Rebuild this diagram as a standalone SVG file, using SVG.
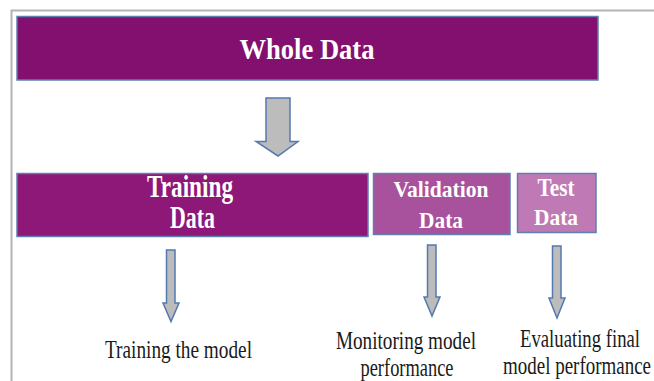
<svg xmlns="http://www.w3.org/2000/svg" width="654" height="381" viewBox="0 0 654 381">
<style>
.box{stroke:#5f7fb0;stroke-width:1.5}
.arrow{fill:#bcbcbc;stroke:#5478b0;stroke-width:1.5;stroke-linejoin:miter}
.t{font-family:"Liberation Serif",serif;font-weight:bold;fill:#ffffff;text-anchor:middle}
.l{font-family:"Liberation Serif",serif;fill:#1a1a1a;text-anchor:middle;font-size:25px}
</style>
<rect width="654" height="381" fill="#ffffff"/>
<path d="M11.5 381 V10.5 H654" fill="none" stroke="#b4b4b4" stroke-width="2"/>
<g id="whole">
<rect class="box" x="17" y="16.5" width="581" height="63.5" fill="#83106f"/>
<text class="t" x="307" y="59.3" font-size="30" textLength="135" lengthAdjust="spacingAndGlyphs">Whole Data</text>
</g>
<g id="training">
<rect class="box" x="17" y="173.5" width="351" height="63" fill="#8d1877"/>
<text class="t" x="190" y="196.5" font-size="32" textLength="86" lengthAdjust="spacingAndGlyphs">Training</text>
<text class="t" x="192.5" y="228.3" font-size="32" textLength="45" lengthAdjust="spacingAndGlyphs">Data</text>
</g>
<g id="validation">
<rect class="box" x="373.5" y="173.5" width="136.5" height="61" fill="#a8529d"/>
<text class="t" x="441" y="196.7" font-size="24" textLength="95" lengthAdjust="spacingAndGlyphs">Validation</text>
<text class="t" x="441" y="227.7" font-size="24" textLength="44" lengthAdjust="spacingAndGlyphs">Data</text>
</g>
<g id="test">
<rect class="box" x="517.5" y="173.5" width="78.5" height="59" fill="#bf79b4"/>
<text class="t" x="556" y="195.7" font-size="26" textLength="37" lengthAdjust="spacingAndGlyphs">Test</text>
<text class="t" x="556" y="225" font-size="24" textLength="44" lengthAdjust="spacingAndGlyphs">Data</text>
</g>
<g id="connectors">
<path class="arrow" d="M266 98 H290 V141.5 H298 L278 156 L256 141.5 H266 Z"/>
<path class="arrow" d="M166.5 250 H175 V303 H179 L171 321.5 L163 303 H166.5 Z"/>
<path class="arrow" d="M427.5 245 H436 V297 H440 L432 316 L424 297 H427.5 Z"/>
<path class="arrow" d="M552.5 246 H561 V298 H565 L557 318 L549 298 H552.5 Z"/>
</g>
<g id="labels">
<text class="l" x="178.5" y="358.3" textLength="147" lengthAdjust="spacingAndGlyphs">Training the model</text>
<text class="l" x="406" y="349" textLength="140" lengthAdjust="spacingAndGlyphs">Monitoring model</text>
<text class="l" x="407" y="376" textLength="93" lengthAdjust="spacingAndGlyphs">performance</text>
<text class="l" x="580" y="347" textLength="120" lengthAdjust="spacingAndGlyphs">Evaluating final</text>
<text class="l" x="577" y="374" textLength="148" lengthAdjust="spacingAndGlyphs">model performance</text>
</g>
</svg>
